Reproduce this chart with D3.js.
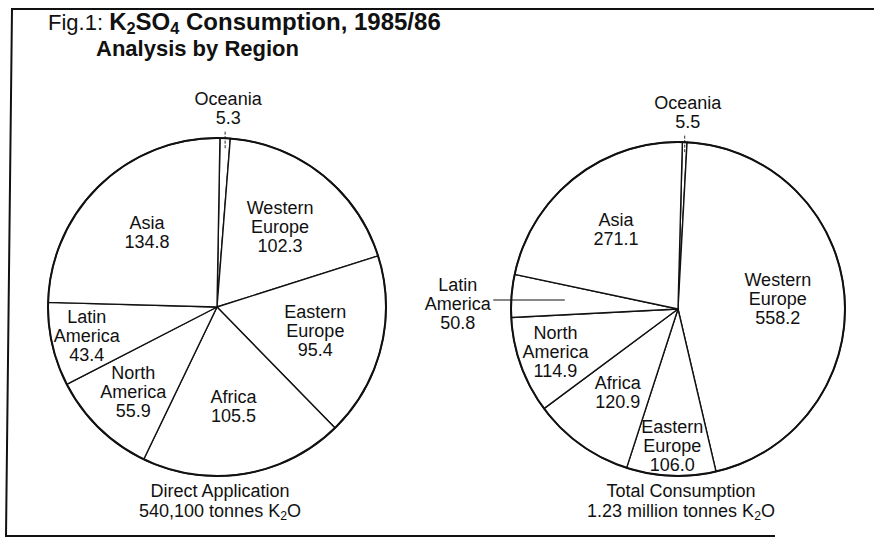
<!DOCTYPE html>
<html lang="en">
  <head>
    <meta charset="UTF-8" />
    <title>K2SO4 Consumption, 1985/86</title>
    <script src="https://d3js.org/d3.v7.min.js"></script>
    <style>
      body {
        margin: 0;
        background: #fff;
      }
      svg text {
        font-family: "Liberation Sans", Arial, Helvetica, sans-serif;
        fill: #111;
      }
      .label {
        font-size: 18px;
      }
      .title {
        font-size: 22px;
        font-weight: bold;
      }
    </style>
  </head>
  <body>
    <div id="chart"></div>

    <script>
      // Regions, clockwise from Oceania at the top
      const regions = [
        "Oceania",
        "Western Europe",
        "Eastern Europe",
        "Africa",
        "North America",
        "Latin America",
        "Asia",
      ];
      // '000 tonnes K2O
      const directValues = [5.3, 102.3, 95.4, 105.5, 55.9, 43.4, 134.8];
      const totalValues = [5.5, 558.2, 106.0, 120.9, 114.9, 50.8, 271.1];

      const directCaption = ["Direct Application", "540,100 tonnes K_2O"];
      const totalCaption = ["Total Consumption", "1.23 million tonnes K_2O"];

      const width = 874,
        height = 543;

      const svg = d3
        .select("#chart")
        .append("svg")
        .attr("width", width)
        .attr("height", height);

      // frame, open on the right like the scan
      svg
        .append("path")
        .attr("d", "M874,9 L12,9 L6,536 L775,536")
        .attr("fill", "none")
        .attr("stroke", "#111")
        .attr("stroke-width", 2);

      // writes "K_2O" style strings with subscripts
      function richText(sel, str) {
        str.split(/(_\d)/).forEach((p) => {
          if (!p) return;
          if (p[0] === "_") {
            sel
              .append("tspan")
              .attr("baseline-shift", "-28%")
              .attr("font-size", "0.68em")
              .text(p.slice(1));
          } else {
            sel.append("tspan").text(p);
          }
        });
      }

      // title
      const title = svg
        .append("text")
        .attr("class", "title")
        .attr("x", 48)
        .attr("y", 30);
      title
        .append("tspan")
        .attr("font-weight", "normal")
        .attr("font-size", "22px")
        .text("Fig.1: ");
      const tb = title.append("tspan").attr("font-size", "24px");
      richText(tb, "K_2SO_4 Consumption, 1985/86");
      svg
        .append("text")
        .attr("class", "title")
        .attr("x", 96)
        .attr("y", 56)
        .text("Analysis by Region");

      const lineH = 19;

      function drawPie(cx, cy, r, values, startDeg, caption) {
        const g = svg
          .append("g")
          .attr("transform", `translate(${cx},${cy})`);

        const a0 = (startDeg * Math.PI) / 180;
        const pie = d3
          .pie()
          .sort(null)
          .value((d) => d.value)
          .startAngle(a0)
          .endAngle(a0 + 2 * Math.PI);

        const arcs = pie(regions.map((name, i) => ({ name, value: values[i] })));
        const arc = d3.arc().innerRadius(0).outerRadius(r);

        g.selectAll("path.slice")
          .data(arcs)
          .join("path")
          .attr("class", "slice")
          .attr("d", arc)
          .attr("fill", "#fff")
          .attr("stroke", "#111")
          .attr("stroke-width", 1.4)
          .attr("stroke-linejoin", "round");

        g.append("circle")
          .attr("r", r)
          .attr("fill", "none")
          .attr("stroke", "#111")
          .attr("stroke-width", 2);

        arcs.forEach((d) => {
          const lines = d.data.name.split(" ").concat(d3.format(".1f")(d.data.value));
          const n = lines.length;
          const span = ((d.endAngle - d.startAngle) * 180) / Math.PI;
          const mid = (d.startAngle + d.endAngle) / 2;
          const sx = Math.sin(mid),
            sy = -Math.cos(mid);

          const t = g
            .append("text")
            .attr("class", "label")
            .attr("text-anchor", "middle");
          const spans = lines.map((l, i) =>
            t
              .append("tspan")
              .attr("x", 0)
              .attr("dy", i ? lineH : 0)
              .text(l)
          );
          const widths = spans.map((s) => s.node().getComputedTextLength() - 1);
          const w = d3.max(widths);

          if (span >= 20) {
            // inside the slice: test each text line against the wedge
            const us = [Math.sin(d.startAngle), -Math.cos(d.startAngle)];
            const ue = [Math.sin(d.endAngle), -Math.cos(d.endAngle)];
            const score = (k) => {
              const px = sx * r * k,
                py = sy * r * k;
              let m = Infinity;
              widths.forEach((wi, i) => {
                const base = py - ((n - 1) / 2) * lineH + 5 + i * lineH;
                [-wi / 2, wi / 2].forEach((dx) =>
                  [base - 13, base + 2].forEach((y) => {
                    const x = px + dx;
                    m = Math.min(
                      m,
                      us[0] * y - us[1] * x,
                      -(ue[0] * y - ue[1] * x),
                      r - Math.hypot(x, y)
                    );
                  })
                );
              });
              return m;
            };
            const ks = d3.range(0.45, 0.9, 0.01);
            const ok = ks.filter((k) => score(k) >= 4);
            const k = ok.length
              ? ok.reduce((a, b) => (Math.abs(b - 0.6) < Math.abs(a - 0.6) ? b : a))
              : ks.reduce((a, b) => (score(b) > score(a) ? b : a));
            const x = sx * r * k,
              y = sy * r * k;
            t.attr("y", y - ((n - 1) / 2) * lineH + 5);
            t.selectAll("tspan").attr("x", x);
          } else if (Math.abs(sx) < 0.5) {
            // thin slice at the top: tick + label above
            const x = sx * r;
            g.append("line")
              .attr("x1", x)
              .attr("x2", x)
              .attr("y1", sy * (r - 10))
              .attr("y2", sy * (r + 8))
              .attr("stroke", "#111")
              .attr("stroke-width", 0.9)
              .attr("stroke-dasharray", "3,1.5");
            t.attr("y", -r - 14 - (n - 1) * lineH);
            t.selectAll("tspan").attr("x", x + 3);
          } else {
            // thin slice at the side: horizontal leader + label outside
            const y = sy * r * 0.68;
            const xin = sx * r * 0.68;
            const xout = Math.sign(sx) * (Math.sqrt(r * r - y * y) + 18);
            g.append("line")
              .attr("x1", xin)
              .attr("x2", xout)
              .attr("y1", y)
              .attr("y2", y)
              .attr("stroke", "#111")
              .attr("stroke-width", 1.2);
            t.attr("y", y - 9);
            t.selectAll("tspan").attr("x", xout + Math.sign(sx) * (w / 2 + 3));
          }
        });

        // caption below the pie
        caption.forEach((c, i) => {
          const t = g
            .append("text")
            .attr("class", "label")
            .attr("text-anchor", "middle")
            .attr("x", 3)
            .attr("y", r + 21 + i * 20);
          richText(t, c);
        });
      }

      drawPie(217, 307, 169, directValues, 1, directCaption);
      drawPie(678, 309, 167, totalValues, 1.5, totalCaption);
    </script>
  </body>
</html>
